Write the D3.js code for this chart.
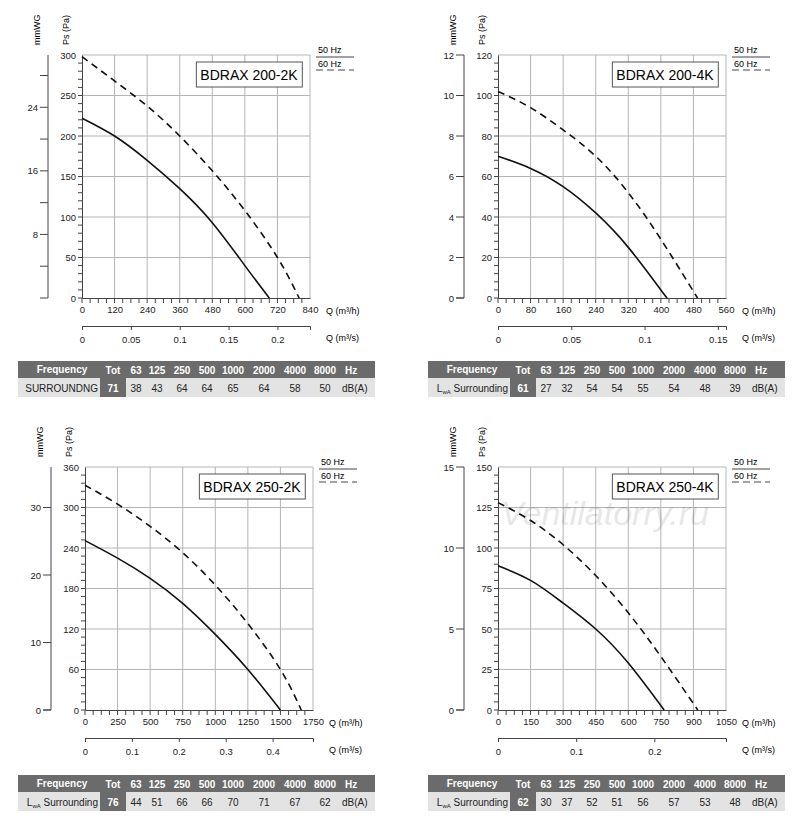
<!DOCTYPE html>
<html><head><meta charset="utf-8">
<script src="https://cdn.jsdelivr.net/npm/d3@7"></script>
<style>body{margin:0;background:#fff}text{font-family:Arial,"Liberation Sans",sans-serif}</style>
</head><body><svg id="c" width="800" height="830"></svg>
<script>
// curve data, Q (m3/h) vs Ps (Pa)
const titles = ["BDRAX  200-2K", "BDRAX 200-4K", "BDRAX 250-2K", "BDRAX 250-4K"];
const qMax = [840, 560, 1750, 1050];
const qStep = [120, 80, 250, 150];
const pMax = [300, 120, 360, 150];
const pStep = [50, 20, 60, 25];
const mmwgFactor = [9.81, 10, 10, 10];
const mmwgTicks = [[8, 16, 24], [0, 2, 4, 6, 8, 10, 12], [0, 10, 20, 30], [0, 5, 10, 15]];
const mmwgMinor = [[4, 12, 20, 28], [], [], []];
const qsTicks = [[0, 0.05, 0.1, 0.15, 0.2], [0, 0.05, 0.1, 0.15], [0, 0.1, 0.2, 0.3, 0.4], [0, 0.1, 0.2]];
const curve50 = [
  [[0,222],[120,200],[240,170],[360,135],[480,93],[600,40],[690,0]],
  [[0,70],[80,64],[160,55],[240,42],[320,25],[400,4],[416,0]],
  [[0,251],[250,225],[500,195],[750,158],[1000,112],[1250,60],[1500,0]],
  [[0,89],[150,80],[300,66],[450,50],[600,29],[765,0]]
];
const curve60 = [
  [[0,298],[120,268],[240,237],[360,200],[480,157],[600,108],[720,50],[800,0]],
  [[0,102],[80,94],[160,83],[240,70],[320,52],[400,29],[490,0]],
  [[0,333],[250,305],[500,272],[750,233],[1000,185],[1250,128],[1500,60],[1660,0]],
  [[0,128],[150,117],[300,102],[450,83],[600,60],[750,33],[920,0]]
];
// sound tables
const bands = ["63","125","250","500","1000","2000","4000","8000"];
const lwaTot = [71, 61, 76, 62];
const lwaBands = [
  [38,43,64,64,65,64,58,50],
  [27,32,54,54,55,54,48,39],
  [44,51,66,66,70,71,67,62],
  [30,37,52,51,56,57,53,48]
];

const svg = d3.select("#c");
const origins = [[0, 0], [416, 0], [3, 412], [416, 412]];

function panel(i) {
  const [ox, oy] = origins[i];
  const g = svg.append("g").attr("transform", `translate(${ox},${oy})`);
  const x0 = 82, x1 = 310, yTop = 55, yBot = 298;
  const x = d3.scaleLinear().domain([0, qMax[i]]).range([x0, x1]);
  const y = d3.scaleLinear().domain([0, pMax[i]]).range([yBot, yTop]);

  // grid
  g.selectAll(".gx").data(d3.range(qStep[i], qMax[i] + 1, qStep[i])).join("line")
    .attr("x1", d => x(d)).attr("x2", d => x(d)).attr("y1", yTop).attr("y2", yBot)
    .attr("stroke", "#b5b5b5").attr("stroke-width", 1);
  g.selectAll(".gy").data(d3.range(pStep[i], pMax[i] + 1, pStep[i])).join("line")
    .attr("x1", x0).attr("x2", x1).attr("y1", d => y(d)).attr("y2", d => y(d))
    .attr("stroke", "#b5b5b5").attr("stroke-width", 1);

  // Pa axis with minor ticks
  const ay = g.append("g").attr("transform", `translate(${x0},0)`)
    .call(d3.axisLeft(y).tickValues(d3.range(0, pMax[i] + 1, pStep[i])).tickSize(0).tickPadding(6));
  g.selectAll(".my").data(d3.range(0, pMax[i], pStep[i] / 5)).join("line")
    .attr("x1", x0 - 4).attr("x2", x0).attr("y1", d => y(d)).attr("y2", d => y(d)).attr("stroke", "#444");
  // Q axis
  const ax = g.append("g").attr("transform", `translate(0,${yBot})`)
    .call(d3.axisBottom(x).tickValues(d3.range(0, qMax[i] + 1, qStep[i])).tickSize(0).tickPadding(8).tickFormat(d3.format("d")));
  g.selectAll(".mx").data(d3.range(0, qMax[i], qStep[i] / 4)).join("line")
    .attr("x1", d => x(d)).attr("x2", d => x(d)).attr("y1", yBot).attr("y2", yBot + 5).attr("stroke", "#444");
  [ay, ax].forEach(a => {
    a.select(".domain").attr("stroke", "#444");
    a.selectAll("text").attr("font-size", 9.5).attr("fill", "#222");
  });

  // mmWG axis
  const ym = d3.scaleLinear().domain([0, pMax[i] / mmwgFactor[i]]).range([yBot, yTop]);
  const am = g.append("g").attr("transform", "translate(48,0)")
    .call(d3.axisLeft(ym).tickValues(mmwgTicks[i]).tickSize(0).tickPadding(10));
  am.select(".domain").remove();
  am.selectAll("text").attr("font-size", 9.5).attr("fill", "#222");
  g.append("line").attr("x1", 48).attr("x2", 48).attr("y1", yTop).attr("y2", yBot).attr("stroke", "#444");
  g.selectAll(".mm").data(mmwgTicks[i].concat(mmwgMinor[i])).join("line")
    .attr("x1", 40).attr("x2", 48).attr("y1", d => ym(d)).attr("y2", d => ym(d)).attr("stroke", "#444");
  g.append("line").attr("x1", 40).attr("x2", 48).attr("y1", yBot).attr("y2", yBot).attr("stroke", "#444");

  // m3/s axis
  const xs = d3.scaleLinear().domain([0, qMax[i] / 3600]).range([x0, x1]);
  const as = g.append("g").attr("transform", `translate(0,${yBot + 28})`)
    .call(d3.axisBottom(xs).tickValues(qsTicks[i]).tickSize(4).tickPadding(6).tickFormat(d3.format("~g")));
  as.select(".domain").attr("stroke", "#444");
  as.selectAll("line").attr("stroke", "#444");
  as.selectAll("text").attr("font-size", 9.5).attr("fill", "#222");

  // labels
  g.append("text").attr("transform", `translate(40,${yTop - 10}) rotate(-90)`).attr("font-size", 9).text("mmWG");
  g.append("text").attr("transform", `translate(69,${yTop - 10}) rotate(-90)`).attr("font-size", 9).text("Ps (Pa)");
  g.append("text").attr("x", 326).attr("y", yBot + 16).attr("font-size", 9).text("Q (m³/h)");
  g.append("text").attr("x", 326).attr("y", yBot + 43).attr("font-size", 9).text("Q (m³/s)");

  // curves
  const line = d3.line().x(d => x(d[0])).y(d => y(d[1])).curve(d3.curveNatural);
  g.append("path").attr("d", line(curve50[i])).attr("fill", "none").attr("stroke", "#111").attr("stroke-width", 1.6);
  g.append("path").attr("d", line(curve60[i])).attr("fill", "none").attr("stroke", "#111").attr("stroke-width", 1.6).attr("stroke-dasharray", "7,5");

  // title box
  const box = g.append("rect");
  const t = g.append("text").attr("x", 249).attr("y", 80).attr("text-anchor", "middle").attr("font-size", 14).text(titles[i]);
  const bb = t.node().getBBox();
  box.attr("x", bb.x - 4).attr("y", 62).attr("width", bb.width + 8).attr("height", 25)
    .attr("fill", "#fff").attr("stroke", "#555");

  // legend
  g.append("text").attr("x", 318).attr("y", 53).attr("font-size", 9).text("50 Hz");
  g.append("line").attr("x1", 316).attr("x2", 354).attr("y1", 57).attr("y2", 57).attr("stroke", "#444");
  g.append("text").attr("x", 318).attr("y", 67).attr("font-size", 9).text("60 Hz");
  g.append("line").attr("x1", 316).attr("x2", 354).attr("y1", 70).attr("y2", 70).attr("stroke", "#444").attr("stroke-dasharray", "7,4");

  // sound table
  const tx = i % 2 === 0 ? 18 - ox : 12, ty = i < 2 ? 361 : 363;
  const tw = 357;
  const tg = g.append("g").attr("transform", `translate(${tx},${ty})`);
  tg.append("rect").attr("width", tw).attr("height", 17).attr("fill", "#6b6b6b");
  tg.append("rect").attr("y", 17).attr("width", tw).attr("height", 19).attr("fill", "#e3e3e3");
  tg.append("rect").attr("x", 82).attr("y", 17).attr("width", 26).attr("height", 19).attr("fill", "#6b6b6b");
  const cols = [118, 139, 164, 189, 215, 246, 277, 307];
  const hdr = tg.append("g").attr("font-size", 10).attr("font-weight", "bold").attr("fill", "#fff");
  hdr.append("text").attr("x", 44).attr("y", 12).attr("text-anchor", "middle").text("Frequency");
  hdr.append("text").attr("x", 95).attr("y", 13).attr("text-anchor", "middle").text("Tot");
  hdr.selectAll(".b").data(bands).join("text").attr("x", (d, k) => cols[k]).attr("y", 13).attr("text-anchor", "middle").text(d => d);
  hdr.append("text").attr("x", 327).attr("y", 13).text("Hz");
  const row = tg.append("g").attr("font-size", 10).attr("fill", "#222");
  if (i === 0) {
    row.append("text").attr("x", 80).attr("y", 31).attr("text-anchor", "end").text("SURROUNDNG");
  } else {
    const lt = row.append("text").attr("x", 80).attr("y", 31).attr("text-anchor", "end");
    lt.append("tspan").text("L");
    lt.append("tspan").attr("font-size", 6).attr("dy", 2).text("wA");
    lt.append("tspan").attr("dy", -2).text(" Surrounding");
  }
  row.append("text").attr("x", 95).attr("y", 31).attr("text-anchor", "middle").attr("fill", "#fff").attr("font-weight", "bold").text(lwaTot[i]);
  row.selectAll(".v").data(lwaBands[i]).join("text").attr("x", (d, k) => cols[k]).attr("y", 31).attr("text-anchor", "middle").text(d => d);
  row.append("text").attr("x", 324).attr("y", 31).text("dB(A)");
}
[0, 1, 2, 3].forEach(panel);

svg.append("text").attr("x", 605).attr("y", 525).attr("text-anchor", "middle").attr("font-size", 34)
  .attr("font-style", "italic").attr("fill", "#000").attr("opacity", 0.09).text("Ventilatorry.ru");
</script></body></html>
